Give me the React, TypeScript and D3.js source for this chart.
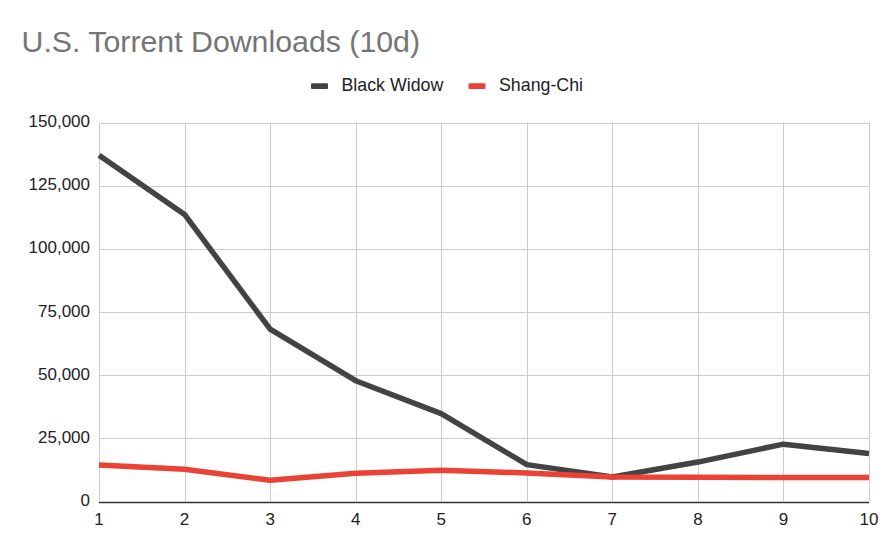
import React from 'react';
import * as d3 from 'd3';

// days since release
const days = [1, 2, 3, 4, 5, 6, 7, 8, 9, 10];
const blackWidow = [137000, 113600, 68200, 47800, 34800, 14600, 9700, 15600, 22700, 19000];
const shangChi = [14400, 12800, 8400, 11200, 12400, 11300, 9700, 9600, 9500, 9500];
const yTicks = [0, 25000, 50000, 75000, 100000, 125000, 150000];

const series = [
  { name: 'Black Widow', values: blackWidow, color: '#434343' },
  { name: 'Shang-Chi', values: shangChi, color: '#ea4335' },
];

const W = 891;
const H = 548;
const margin = { top: 122.5, right: 22, bottom: 46.5, left: 99 };
const FONT = '"Liberation Sans", Arial, sans-serif';

export default function App() {
  const x = d3.scaleLinear().domain([1, 10]).range([margin.left, W - margin.right]);
  const y = d3.scaleLinear().domain([0, 150000]).range([H - margin.bottom, margin.top]);
  const fmt = d3.format(',');

  const line = (vals: number[]) =>
    d3
      .line<number>()
      .x((_, i) => x(days[i]))
      .y((d) => y(d))(vals) ?? '';

  const legendItems = [
    { sw: 311, tx: 341.5 },
    { sw: 468.5, tx: 499 },
  ];

  return (
    <svg
      width={W}
      height={H}
      style={{ position: 'absolute', left: 0, top: 0, display: 'block', background: '#fff' }}
      fontFamily={FONT}
    >
      <rect width={W} height={H} fill="#fff" />
      <text x={21.5} y={51.7} fontSize={30.3} fill="#757575">
        U.S. Torrent Downloads (10d)
      </text>

      {series.map((s, i) => (
        <g key={s.name}>
          <rect x={legendItems[i].sw} y={83.3} width={17} height={5.6} rx={1} fill={s.color} />
          <text x={legendItems[i].tx} y={91} fontSize={17.8} fill="#222">
            {s.name}
          </text>
        </g>
      ))}

      {/* grid */}
      {yTicks.map((t) => (
        <g key={t}>
          <line
            x1={margin.left}
            x2={W - margin.right}
            y1={Math.round(y(t)) + 0.5}
            y2={Math.round(y(t)) + 0.5}
            stroke={t === 0 ? '#333' : '#ccc'}
            strokeWidth={t === 0 ? 1.5 : 1}
          />
          <text x={90} y={y(t) + 4.6} fontSize={17} fill="#222" textAnchor="end">
            {fmt(t)}
          </text>
        </g>
      ))}
      {days.map((d) => (
        <g key={d}>
          <line
            x1={Math.round(x(d)) + 0.5}
            x2={Math.round(x(d)) + 0.5}
            y1={margin.top}
            y2={y(0)}
            stroke="#ccc"
            strokeWidth={1}
          />
          <text x={x(d)} y={y(0) + 23} fontSize={17} fill="#222" textAnchor="middle">
            {d}
          </text>
        </g>
      ))}

      {series.map((s) => (
        <path
          key={s.name}
          d={line(s.values)}
          fill="none"
          stroke={s.color}
          strokeWidth={5.5}
          strokeLinejoin="round"
        />
      ))}
    </svg>
  );
}
